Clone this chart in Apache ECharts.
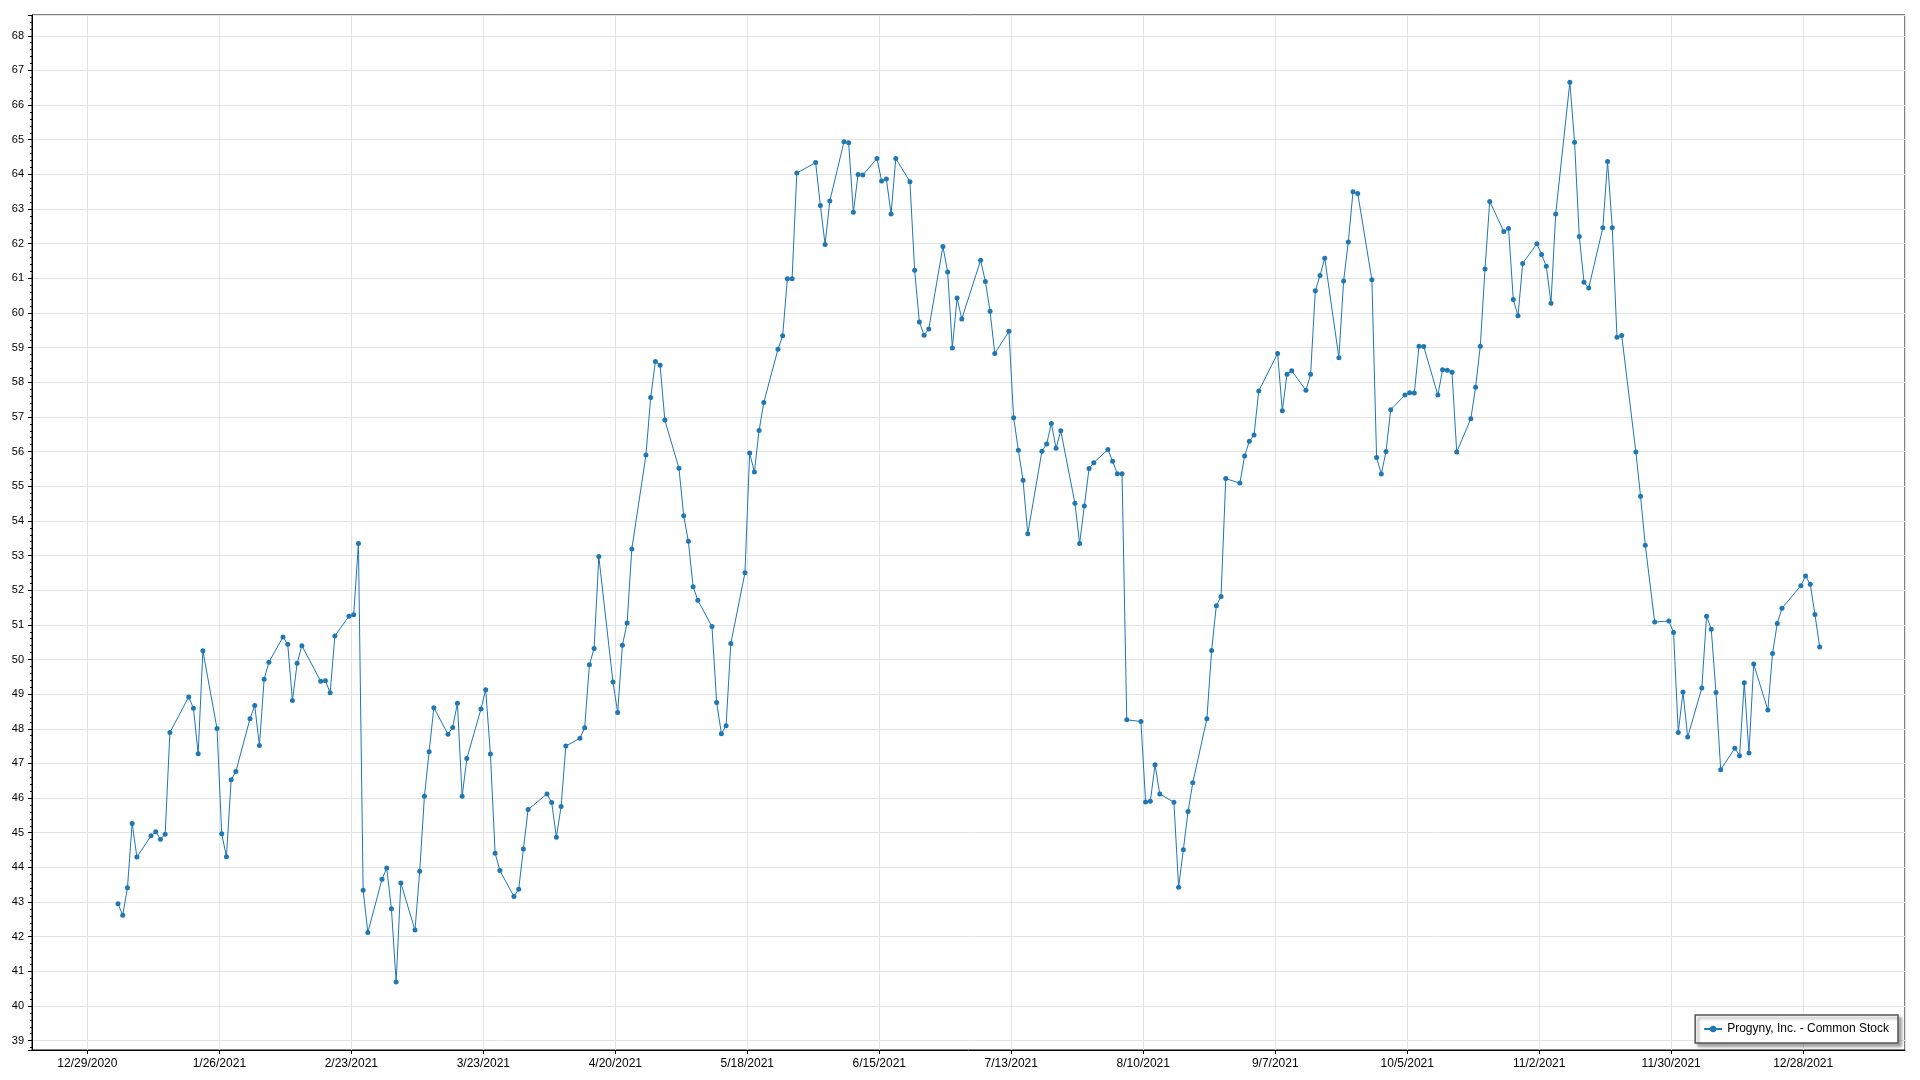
<!DOCTYPE html>
<html>
<head>
<meta charset="utf-8">
<script src="https://cdn.jsdelivr.net/npm/echarts@6/dist/echarts.min.js"></script>
<style>
html,body{margin:0;padding:0;background:#fff;}
#chart{width:1920px;height:1080px;}
</style>
</head>
<body>
<div id="chart"></div>
<script>
// Trading days (day of month) and closing prices, 2021
const janDays = [4,5,6,7,8,11,12,13,14,15,19,20,21,22,25,26,27,28,29];
const janVals = [42.95,42.62,43.41,45.27,44.30,44.91,45.03,44.81,44.96,47.89,48.92,48.59,47.28,50.25,48.01,44.97,44.31,46.53,46.77];
const febDays = [1,2,3,4,5,8,9,10,11,12,16,17,18,19,22,23,24,25,26];
const febVals = [48.29,48.67,47.52,49.43,49.92,50.65,50.44,48.82,49.89,50.40,49.37,49.39,49.04,50.68,51.25,51.29,53.35,43.34,42.12];
const marDays = [1,2,3,4,5,8,9,10,11,12,15,16,17,18,19,22,23,24,25,26,29,30,31];
const marVals = [43.66,43.98,42.81,40.69,43.55,42.19,43.89,46.05,47.34,48.61,47.84,48.04,48.74,46.05,47.14,48.57,49.13,47.27,44.41,43.91,43.16,43.37,44.53];
const aprDays = [1,5,6,7,8,9,12,13,14,15,16,19,20,21,22,23,26,27,28,29,30];
const aprVals = [45.67,46.12,45.87,44.87,45.76,47.50,47.73,48.03,49.85,50.32,52.97,49.35,48.47,50.41,51.05,53.19,55.90,57.56,58.60,58.49,56.91];
const mayDays = [3,4,5,6,7,10,11,12,13,14,17,18,19,20,21,24,25,26,27,28];
const mayVals = [55.52,54.15,53.41,52.10,51.71,50.95,48.76,47.86,48.09,50.46,52.50,55.96,55.41,56.61,57.42,58.95,59.34,60.99,60.99,64.04];
const junDays = [1,2,3,4,7,8,9,10,11,14,15,16,17,18,21,22,23,24,25,28,29,30];
const junVals = [64.34,63.10,61.98,63.23,64.94,64.91,62.91,64.00,63.98,64.46,63.81,63.87,62.86,64.46,63.79,61.23,59.74,59.36,59.54,61.92,61.18,58.99];
const julDays = [1,2,6,7,8,9,12,13,14,15,16,19,20,21,22,23,26,27,28,29,30];
const julVals = [60.43,59.83,61.52,60.91,60.05,58.83,59.47,56.98,56.04,55.17,53.63,56.01,56.22,56.81,56.10,56.60,54.51,53.35,54.43,55.51,55.68];
const augDays = [2,3,4,5,6,9,10,11,12,13,16,17,18,19,20,23,24,25,26,27,30,31];
const augVals = [56.06,55.72,55.36,55.36,48.26,48.21,45.89,45.91,46.96,46.12,45.88,43.43,44.51,45.61,46.44,48.29,50.26,51.55,51.82,55.22,55.09,55.87];
const sepDays = [1,2,3,7,8,9,10,13,14,15,16,17,20,21,22,23,24,27,28,29,30];
const sepVals = [56.30,56.48,57.75,58.83,57.18,58.23,58.33,57.77,58.23,60.64,61.08,61.58,58.71,60.92,62.05,63.50,63.45,60.96,55.83,55.35,56.00];
const octDays = [1,4,5,6,7,8,11,12,13,14,15,18,19,20,21,22,25,26,27,28,29];
const octVals = [57.21,57.63,57.70,57.69,59.04,59.03,57.63,58.36,58.35,58.29,55.99,56.95,57.86,59.04,61.27,63.22,62.35,62.44,60.39,59.92,61.43];
const novDays = [1,2,3,4,5,8,9,10,11,12,15,16,17,18,19,22,23,24,26,29,30];
const novVals = [62.00,61.69,61.35,60.28,62.86,66.66,64.93,62.21,60.89,60.72,62.46,64.37,62.46,59.30,59.35,55.99,54.71,53.30,51.08,51.11,50.78];
const decDays = [1,2,3,6,7,8,9,10,13,14,15,16,17,20,21,22,23,27,28,29,30,31];
const decVals = [47.89,49.06,47.76,49.18,51.25,50.87,49.05,46.82,47.44,47.22,49.33,47.30,49.87,48.54,50.17,51.04,51.48,52.13,52.41,52.17,51.30,50.36];

const seriesName = 'Progyny, Inc. - Common Stock';
const tickStartDate = [2020, 11, 29]; // 12/29/2020, x ticks every 28 days
const tickStepDays = 28;

const monthDays = [janDays,febDays,marDays,aprDays,mayDays,junDays,julDays,augDays,sepDays,octDays,novDays,decDays];
const monthVals = [janVals,febVals,marVals,aprVals,mayVals,junVals,julVals,augVals,sepVals,octVals,novVals,decVals];

const DAY = 86400000;
const base = Date.UTC(tickStartDate[0], tickStartDate[1], tickStartDate[2]);
const data = [];
monthDays.forEach((days, m) => {
  days.forEach((d, i) => {
    // quotes are stamped at midday
    data.push([(Date.UTC(2021, m, d, 12) - base) / DAY, monthVals[m][i]]);
  });
});

const chart = echarts.init(document.getElementById('chart'), null, {renderer: 'canvas'});
const font = 'Liberation Sans';
chart.setOption({
  animation: false,
  backgroundColor: '#ffffff',
  grid: {left: 32, right: 15, top: 15, bottom: 30, show: true, borderColor: '#000', borderWidth: 1, containLabel: false},
  xAxis: {
    type: 'value',
    min: -11.75,
    max: 385.6,
    splitNumber: 14,
    minInterval: tickStepDays,
    maxInterval: tickStepDays,
    axisLine: {show: true, onZero: false, lineStyle: {color: '#000', width: 1}},
    axisTick: {show: true, length: 4, lineStyle: {color: '#000'}},
    axisLabel: {
      margin: 8, color: '#000', fontFamily: font, fontSize: 12,
      showMinLabel: false, showMaxLabel: false,
      formatter: function (v) {
        if (Math.abs(v % tickStepDays) > 1e-6) return '';
        const d = new Date(base + v * DAY);
        return (d.getUTCMonth() + 1) + '/' + d.getUTCDate() + '/' + d.getUTCFullYear();
      }
    },
    splitLine: {show: true, lineStyle: {color: '#e3e3e3', width: 1}}
  },
  yAxis: {
    type: 'value',
    min: 38.73,
    max: 68.6,
    splitNumber: 30,
    minInterval: 1,
    maxInterval: 1,
    axisLine: {show: true, onZero: false, lineStyle: {color: '#000', width: 1}},
    axisTick: {show: true, length: 4, lineStyle: {color: '#000'}},
    minorTick: {show: true, splitNumber: 5, length: 2, lineStyle: {color: '#000'}},
    axisLabel: {
      margin: 8, color: '#000', fontFamily: font, fontSize: 11,
      showMinLabel: false, showMaxLabel: false,
      formatter: function (v) { return Math.abs(v - Math.round(v)) < 1e-6 ? String(Math.round(v)) : ''; }
    },
    splitLine: {show: true, lineStyle: {color: '#e3e3e3', width: 1}}
  },
  legend: {
    show: true,
    right: 22,
    bottom: 37,
    orient: 'horizontal',
    padding: [8, 9, 8, 8],
    itemWidth: 18,
    itemHeight: 8,
    borderColor: '#555',
    borderWidth: 1.5,
    backgroundColor: '#fff',
    shadowColor: 'rgba(0,0,0,0.35)',
    shadowBlur: 3,
    shadowOffsetX: 3,
    shadowOffsetY: 3,
    textStyle: {color: '#000', fontFamily: font, fontSize: 12},
    data: [seriesName]
  },
  series: [{
    name: seriesName,
    type: 'line',
    data: data,
    showSymbol: true,
    showAllSymbol: true,
    symbol: 'circle',
    symbolSize: 5,
    color: '#1f77b4',
    lineStyle: {color: '#1f77b4', width: 1},
    itemStyle: {color: '#1f77b4'}
  }]
});
</script>
</body>
</html>
